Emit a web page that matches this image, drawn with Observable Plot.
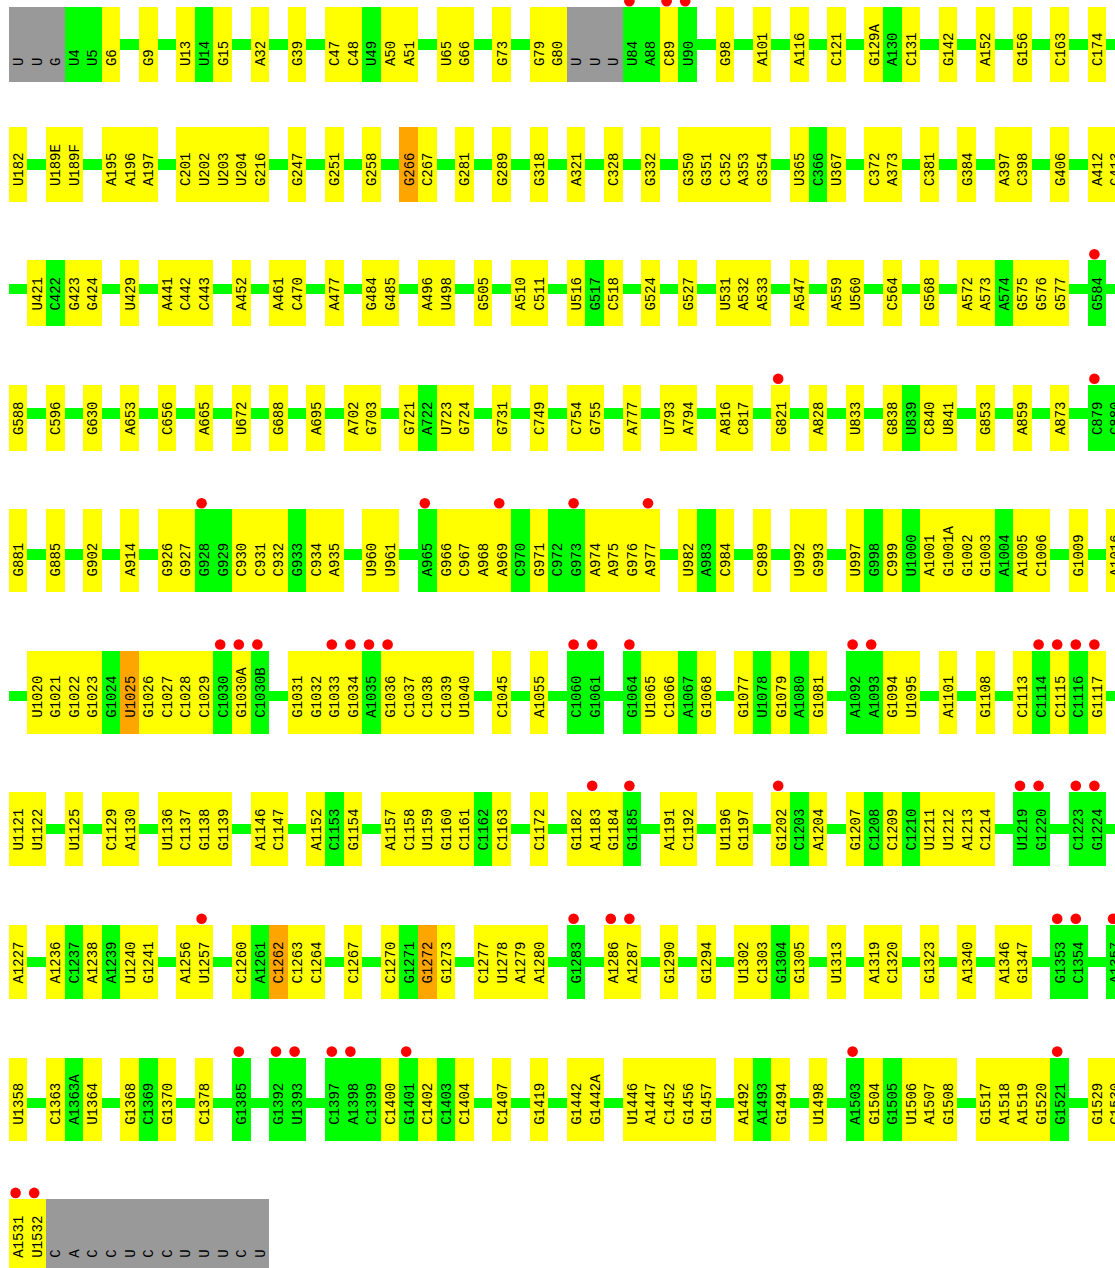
<!DOCTYPE html>
<html>
<head>
<meta charset="utf-8">
<script src="https://cdn.jsdelivr.net/npm/d3@7"></script>
<script src="https://cdn.jsdelivr.net/npm/@observablehq/plot@0.6"></script>
<style>
  html, body { margin: 0; padding: 0; background: #fff; }
  #chart svg { display: block; }
</style>
</head>
<body>
<div id="chart"></div>
<script>
// Token: label, optional "/g" (green), "/o" (orange), "/x" (grey), optional "*" (red dot). "|" = gap.
const row01 = ["U/x","U/x","G/x","U4/g","U5/g","G6","|","G9","|","U13","U14/g","G15","|","A32","|","G39","|","C47","C48","U49/g","A50","A51","|","U65","G66","|","G73","|","G79","G80","U/x","U/x","U/x","U84/g*","A88/g","C89*","U90/g*","|","G98","|","A101","|","A116","|","C121","|","G129A","A130/g","C131","|","G142","|","A152","|","G156","|","C163","|","C174","|"];
const row02 = ["U182","|","U189E","U189F","|","A195","A196","A197","|","C201","U202","U203","U204","G216","|","G247","|","G251","|","G258","|","G266/o","C267","|","G281","|","G289","|","G318","|","A321","|","C328","|","G332","|","G350","G351","C352","A353","G354","|","U365","C366/g","U367","|","C372","A373","|","C381","|","G384","|","A397","C398","|","G406","|","A412","C413"];
const row03 = ["|","U421","C422/g","G423","G424","|","U429","|","A441","C442","C443","|","A452","|","A461","C470","|","A477","|","G484","G485","|","A496","U498","|","G505","|","A510","C511","|","U516","G517/g","C518","|","G524","|","G527","|","U531","A532","A533","|","A547","|","A559","U560","|","C564","|","G568","|","A572","A573","A574/g","G575","G576","G577","|","G584/g*","|"];
const row04 = ["G588","|","C596","|","G630","|","A653","|","C656","|","A665","|","U672","|","G688","|","A695","|","A702","G703","|","G721","A722/g","U723","G724","|","G731","|","C749","|","C754","G755","|","A777","|","U793","A794","|","A816","C817","|","G821*","|","A828","|","U833","|","G838","U839/g","C840","U841","|","G853","|","A859","|","A873","|","C879/g*","C880/g"];
const row05 = ["G881","|","G885","|","G902","|","A914","|","G926","G927","G928/g*","G929/g","C930","C931","C932","G933/g","C934","A935","|","U960","U961","|","A965/g*","G966","C967","A968","A969*","C970/g","G971","C972/g","G973/g*","A974","A975","G976","A977*","|","U982","A983/g","C984","|","C989","|","U992","G993","|","U997","G998/g","C999","U1000/g","A1001","G1001A","G1002","G1003","A1004/g","A1005","C1006","|","G1009","|","A1016"];
const row06 = ["|","U1020","G1021","G1022","G1023","G1024/g","U1025/o","G1026","C1027","C1028","C1029","C1030/g*","G1030A*","C1030B/g*","|","G1031","G1032","G1033*","G1034*","A1035/g*","G1036*","C1037","C1038","C1039","U1040","|","C1045","|","A1055","|","C1060/g*","G1061/g*","|","G1064/g*","U1065","C1066","A1067/g","G1068","|","G1077","U1078/g","G1079","A1080/g","G1081","|","A1092/g*","A1093/g*","G1094","U1095","|","A1101","|","G1108","|","C1113","C1114/g*","C1115*","C1116/g*","G1117*","|"];
const row07 = ["U1121","U1122","|","U1125","|","C1129","A1130","|","U1136","C1137","G1138","G1139","|","A1146","C1147","|","A1152","C1153/g","G1154","|","A1157","C1158","U1159","G1160","C1161","C1162/g","C1163","|","C1172","|","G1182","A1183*","G1184","G1185/g*","|","A1191","C1192","|","U1196","G1197","|","G1202*","C1203/g","A1204","|","G1207","C1208/g","C1209","C1210/g","U1211","U1212","A1213","C1214","|","U1219/g*","G1220/g*","|","C1223/g*","G1224/g*","|"];
const row08 = ["A1227","|","A1236","C1237/g","A1238","A1239/g","U1240","G1241","|","A1256","U1257*","|","C1260","A1261/g","C1262/o","C1263","C1264","|","C1267","|","C1270","G1271/g","G1272/o","G1273","|","C1277","U1278","A1279","A1280","|","G1283/g*","|","A1286*","A1287*","|","G1290","|","G1294","|","U1302","C1303","G1304/g","G1305","|","U1313","|","A1319","C1320","|","G1323","|","A1340","|","A1346","G1347","|","G1353/g*","C1354/g*","|","A1357/g*"];
const row09 = ["U1358","|","C1363","A1363A/g","U1364","|","G1368","C1369/g","G1370","|","C1378","|","G1385/g*","|","G1392/g*","U1393/g*","|","C1397/g*","A1398/g*","C1399/g","C1400","G1401/g*","C1402","C1403/g","C1404","|","C1407","|","G1419","|","G1442","G1442A","|","U1446","A1447","C1452","G1456","G1457","|","A1492","A1493/g","G1494","|","U1498","|","A1503/g*","G1504","G1505/g","U1506","A1507","G1508","|","G1517","A1518","A1519","G1520","G1521/g*","|","G1529","C1530"];
const row10 = ["A1531*","U1532*","C/x","A/x","C/x","C/x","U/x","C/x","C/x","U/x","U/x","U/x","C/x","U/x"];

const rows = [row01,row02,row03,row04,row05,row06,row07,row08,row09,row10];
const kinds = ["y","g","o","x"];
const kindColors = ["#ffff00","#00ff00","#ffa500","#999999"];

// layout parameters (font metrics of 14px monospace)
const CHAR = 8.4, PAD = 16.3, FIRST_TOP = 7.3, ROW_GAP = 45.4, DOT_SPACE = 12.9;
const LINE_OFF = 37.6, LINE_HALF = 5.2, DOT_OFF = 6.5;

const cells = [], gaps = [];
let prevBottom = null;
rows.forEach((row, r) => {
  const parsed = row.map((tok, col) => {
    if (tok === "|") return {gap: true, col, row: r};
    let dot = tok.endsWith("*");
    let t = dot ? tok.slice(0, -1) : tok;
    let kind = "y";
    const m = t.match(/^(.*)\/([gox])$/);
    if (m) { t = m[1]; kind = m[2]; }
    return {gap: false, col, row: r, label: t, kind, dot};
  });
  const real = parsed.filter(d => !d.gap);
  const maxLen = d3.max(real, d => d.label.length);
  const hasDots = real.some(d => d.dot);
  const top = prevBottom === null ? FIRST_TOP : prevBottom + ROW_GAP + (hasDots ? DOT_SPACE : 0);
  const bottom = top + maxLen * CHAR + 2 * PAD;
  prevBottom = bottom;
  parsed.forEach(d => {
    d.top = top; d.bottom = bottom;
    d.textY = bottom - PAD;
    d.lineY = bottom - LINE_OFF;
    d.dotY = top - DOT_OFF;
    (d.gap ? gaps : cells).push(d);
  });
});

const chart = Plot.plot({
  width: 1115,
  height: 1268,
  margin: 0,
  style: {background: "#fff"},
  x: {domain: [0, 60], range: [8.7, 8.7 + 60 * 18.6], axis: null},
  y: {domain: [0, 1268], range: [0, 1268], axis: null},
  color: {domain: kinds, range: kindColors},
  marks: [
    Plot.rect(gaps, {x1: "col", x2: d => d.col + 1, y1: d => d.lineY - LINE_HALF, y2: d => d.lineY + LINE_HALF, fill: "#00ff00", shapeRendering: "crispEdges"}),
    Plot.rect(cells, {x1: "col", x2: d => d.col + 1, y1: "top", y2: "bottom", fill: "kind", shapeRendering: "crispEdges"}),
    Plot.text(cells, {x: d => d.col + 0.5, y: "textY", text: "label", rotate: -90, textAnchor: "start", lineAnchor: "middle", fontFamily: "Liberation Mono, monospace", fontSize: 14, fill: "#000"}),
    Plot.dot(cells.filter(d => d.dot), {x: d => d.col + 0.344, y: "dotY", r: 5.3, fill: "#ff0000"})
  ]
});
document.getElementById("chart").appendChild(chart);
</script>
</body>
</html>
